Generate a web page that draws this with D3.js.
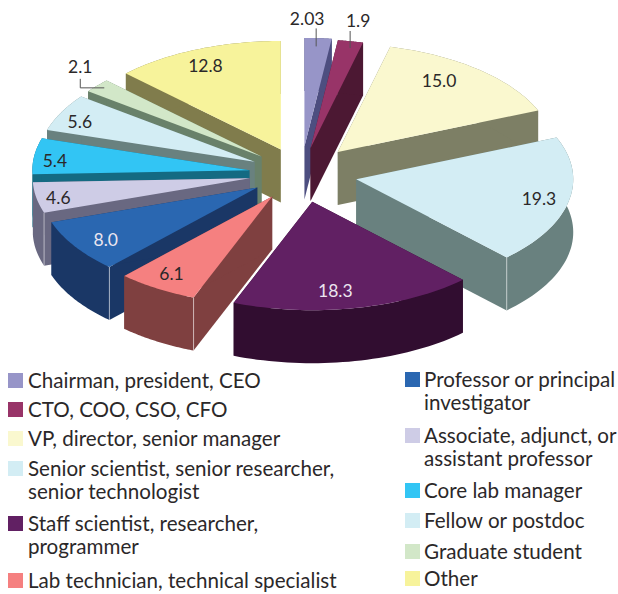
<!DOCTYPE html>
<html>
<head>
<meta charset="utf-8">
<script src="https://cdn.jsdelivr.net/npm/d3@7"></script>
<style>
    html, body { margin: 0; padding: 0; background: #fff; }
    svg { display: block; }
    text { font-family: Lato, sans-serif; fill: #2b2829; }
</style>
</head>
<body>
<div id="chart"></div>
<script>
const categories = ["Chairman, president, CEO", "CTO, COO, CSO, CFO", "VP, director, senior manager",
    "Senior scientist, senior researcher, senior technologist", "Staff scientist, researcher, programmer",
    "Lab technician, technical specialist", "Professor or principal investigator",
    "Associate, adjunct, or assistant professor", "Core lab manager", "Fellow or postdoc",
    "Graduate student", "Other"];
const values = [2.03, 1.9, 15.0, 19.3, 18.3, 6.1, 8.0, 4.6, 5.4, 5.6, 2.1, 12.8];
const valueLabels = ["2.03", "1.9", "15.0", "19.3", "18.3", "6.1", "8.0", "4.6", "5.4", "5.6", "2.1", "12.8"];

const topColors = ["#9795c8", "#983468", "#faf8cf", "#d3edf4", "#612063", "#f58080",
    "#2a67b1", "#cecce6", "#32c5f4", "#d3edf4", "#d2e7c8", "#f7f39b"];
const wallColors = ["#4d4e80", "#4c1833", "#7d7f65", "#69817f", "#310d30", "#7f4040",
    "#1a3766", "#696881", "#146a82", "#69817f", "#69816a", "#807c4c"];

// legend text, already broken in lines, one list per column
const legendLeft = [[0, ["Chairman, president, CEO"], 381], [1, ["CTO, COO, CSO, CFO"], 410],
    [2, ["VP, director, senior manager"], 439], [3, ["Senior scientist, senior researcher,", "senior technologist"], 469],
    [4, ["Staff scientist, researcher,", "programmer"], 524], [5, ["Lab technician, technical specialist"], 581]];
const legendRight = [[6, ["Professor or principal", "investigator"], 380], [7, ["Associate, adjunct, or", "assistant professor"], 436],
    [8, ["Core lab manager"], 491], [9, ["Fellow or postdoc"], 521], [10, ["Graduate student"], 552], [11, ["Other"], 579]];

const width = 618, height = 594;
const cx = 301, cy = 173.5, rx = 217, ry = 108.5, depth = 53;

// how far each slice is pulled out, in radii
const pull = [0.25, 0.24, 0.26, 0.26, 0.265, 0.25, 0.24, 0.24, 0.24, 0.24, 0.24, 0.24];
// label distance from the slice tip, in radii, and turn away from the middle of the slice
const labelR = [1.18, 1.19, 0.81, 0.86, 0.83, 0.85, 0.845, 0.9, 0.9, 0.885, 1.175, 0.845];
const labelTurn = [-3, 0, -5.5, 0, 4, 1, -1.5, -1, -2, -2.5, 4, -1.5];

const svg = d3.select("#chart").append("svg")
    .attr("width", width)
    .attr("height", height);

const x = d3.scaleLinear().domain([-1, 1]).range([cx - rx, cx + rx]);
const y = d3.scaleLinear().domain([-1, 1]).range([cy - ry, cy + ry]);

const pie = d3.pie().sort(null).value(d => d);
const slices = pie(values).map((d, i) => {
    d.i = i;
    d.mid = (d.startAngle + d.endAngle) / 2;
    return d;
});

// angle is clockwise from 12 o'clock, r in radii
function polar(a, r) {
    return [Math.sin(a) * r, -Math.cos(a) * r];
}

function tip(d) {
    return polar(d.mid, pull[d.i]);
}

function project(d, a, r, drop) {
    const t = tip(d), p = polar(a, r);
    return [x(t[0] + p[0]), y(t[1] + p[1]) + (drop || 0)];
}

const line = d3.line();

function arcPoints(d, drop) {
    return d3.range(0, 41).map(k => project(d, d.startAngle + (d.endAngle - d.startAngle) * k / 40, 1, drop));
}

// draw back slices first
const order = slices.slice().sort((a, b) => Math.cos(b.mid) - Math.cos(a.mid));

order.forEach(d => {
    const g = svg.append("g").attr("class", "slice");
    const wall = wallColors[d.i];
    const apex = project(d, 0, 0, 0), apexLow = project(d, 0, 0, depth);

    [d.startAngle, d.endAngle].forEach(a => {
        g.append("path")
            .attr("d", line([apex, project(d, a, 1, 0), project(d, a, 1, depth), apexLow]) + "Z")
            .attr("fill", wall);
    });

    g.append("path")
        .attr("d", line(arcPoints(d, 0).concat(arcPoints(d, depth).reverse())) + "Z")
        .attr("fill", wall);

    // light seam where a side wall meets the curved wall
    [[d.startAngle, Math.sin(d.startAngle) < 0], [d.endAngle, Math.sin(d.endAngle) > 0]].forEach(s => {
        if (s[1] && Math.cos(s[0]) < -0.05) {
            g.append("path")
                .attr("d", line([project(d, s[0], 1, 0), project(d, s[0], 1, depth)]))
                .attr("stroke", "#fff")
                .attr("stroke-opacity", 0.5)
                .attr("fill", "none");
        }
    });

    g.append("path")
        .attr("d", line([apex].concat(arcPoints(d, 0))) + "Z")
        .attr("fill", topColors[d.i]);
});

// value labels
const labels = svg.append("g").selectAll("text")
    .data(slices)
    .enter().append("text")
    .attr("text-anchor", "middle")
    .attr("dy", "0.36em")
    .attr("font-size", 17.5)
    .attr("transform", d => "translate(" + project(d, d.mid + labelTurn[d.i] * Math.PI / 180, labelR[d.i], 0) + ")")
    .style("fill", d => (d.i === 4 || d.i === 6) ? "#ece6f0" : "#2b2829")
    .text(d => valueLabels[d.i]);

// leader lines for the three small slices, measured from their labels
const leaders = {0: [[9, 10], [9, 28]], 1: [[-8, 10], [-8, 27]], 10: [[0, 12], [0, 21], [24, 21]]};
Object.keys(leaders).forEach(k => {
    const d = slices[k];
    const o = project(d, d.mid + labelTurn[d.i] * Math.PI / 180, labelR[d.i], 0);
    svg.append("path")
        .attr("d", line(leaders[k].map(p => [o[0] + p[0], o[1] + p[1]])))
        .attr("fill", "none")
        .attr("stroke", "#555")
        .attr("stroke-width", 1);
});

// legend
function drawLegend(rows, swatchX, textX) {
    rows.forEach(r => {
        svg.append("rect")
            .attr("x", swatchX)
            .attr("y", r[2] - 8)
            .attr("width", 15)
            .attr("height", 15)
            .attr("fill", topColors[r[0]]);

        r[1].forEach((t, j) => {
            svg.append("text")
                .attr("x", textX)
                .attr("y", r[2] + j * 23.5 + 6.5)
                .attr("font-size", 20.6)
                .text(t);
        });
    });
}

drawLegend(legendLeft, 8, 28);
drawLegend(legendRight, 405, 424);
</script>
</body>
</html>
